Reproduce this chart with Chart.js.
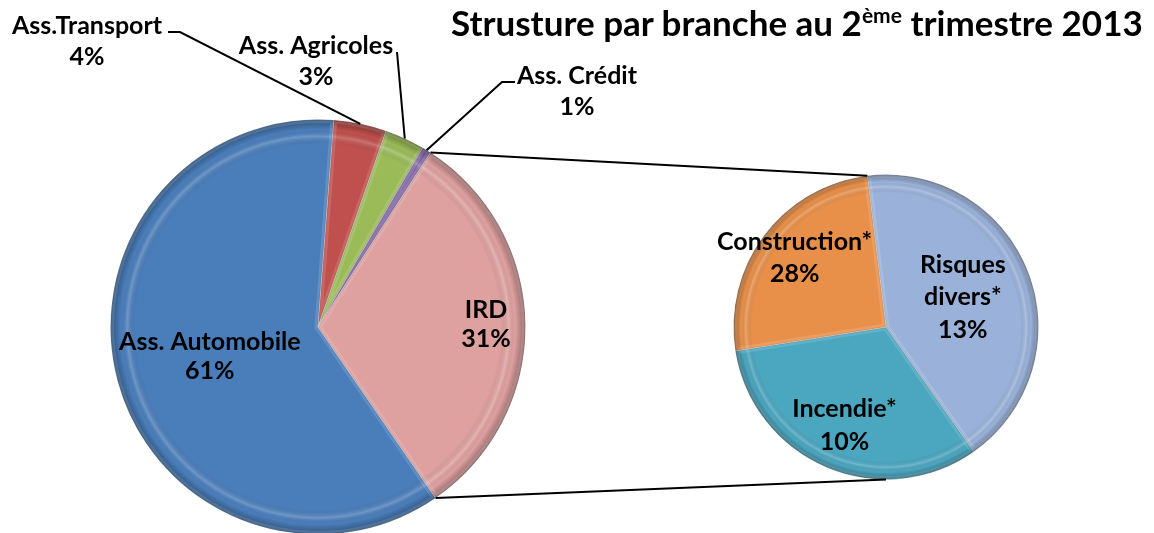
<!DOCTYPE html>
<html>
<head>
<meta charset="utf-8">
<script src="https://cdn.jsdelivr.net/npm/chart.js@4.4.1/dist/chart.umd.min.js"></script>
<style>
  body { margin: 0; background: #fff; overflow: hidden; }
  #wrap { position: relative; width: 1154px; height: 533px; overflow: hidden; }
  #wrap canvas { position: absolute; left: 0; top: 0; }
  #title {
    position: absolute; left: 451px; top: 1px; white-space: nowrap;
    font-family: Lato, sans-serif; font-weight: bold; font-size: 35px; color: #000;
  }
  #title sup { font-size: 21px; vertical-align: 13px; line-height: 0; }
</style>
</head>
<body>
<div id="wrap">
  <canvas id="mainPie" width="1154" height="560"></canvas>
  <canvas id="subPie" width="1154" height="560"></canvas>
  <div id="title">Strusture par branche au 2<sup>ème</sup> trimestre 2013</div>
</div>
<script>
// data
const mainLabels = [['Ass. Automobile'], ['Ass.Transport'], ['Ass. Agricoles'], ['Ass. Crédit'], ['IRD']]
const mainValues = [60.8, 4.1, 3.1, 0.7, 31.3]
const mainColors = ['#4a7ebb', '#c0504d', '#9bbb59', '#8064a2', '#dfa0a0']

// IRD split (second pie)
const subLabels = [['Risques', 'divers*'], ['Incendie*'], ['Construction*']]
const subValues = [13.2, 10.1, 8.0]
const subPercents = ['13%', '10%', '28%']
const subColors = ['#9ab2da', '#4ba6c0', '#e8904a']

// label placement (style only)
const mainLabelPos = [
  {r: 0.54},
  {x: 87, y: 41, leader: [[168, 32], [180, 32]]},
  {x: 316, y: 61, leader: [[397, 52]]},
  {x: 577, y: 91, leader: [[515, 82], [502, 82]]},
  {r: 0.81}
]
const subLabelPos = [{r: 0.54}, {r: 0.70}, {r: 0.75}]

const labelFont = 'bold 25px Lato'

function arcProps(arc) {
  return arc.getProps(['x', 'y', 'startAngle', 'endAngle', 'outerRadius'], true)
}

function drawLines(ctx, lines, x, y, lh) {
  ctx.font = labelFont
  ctx.fillStyle = '#000'
  ctx.textAlign = 'center'
  ctx.textBaseline = 'middle'
  let top = y - (lines.length - 1) * lh / 2
  lines.forEach((t, i) => ctx.fillText(t, x, top + i * lh))
}

// fake excel bevel: dark rim, light band, soft edges
const bevel = {
  id: 'bevel',
  afterDatasetsDraw(chart) {
    const ctx = chart.ctx
    chart.getDatasetMeta(0).data.forEach(arc => {
      const p = arcProps(arc)
      ctx.save()
      ctx.beginPath()
      ctx.moveTo(p.x, p.y)
      ctx.arc(p.x, p.y, p.outerRadius, p.startAngle, p.endAngle)
      ctx.closePath()
      ctx.clip()
      const g = ctx.createRadialGradient(p.x, p.y, 0, p.x, p.y, p.outerRadius)
      g.addColorStop(0, 'rgba(0,0,0,0)')
      g.addColorStop(0.88, 'rgba(0,0,0,0)')
      g.addColorStop(0.92, 'rgba(255,255,255,0.2)')
      g.addColorStop(0.95, 'rgba(0,0,0,0)')
      g.addColorStop(1, 'rgba(0,0,0,0.35)')
      ctx.fillStyle = g
      ctx.fill()
      ctx.lineWidth = 7
      ctx.strokeStyle = 'rgba(255,255,255,0.13)'
      ctx.stroke()
      ctx.lineWidth = 2
      ctx.strokeStyle = 'rgba(0,0,0,0.12)'
      ctx.stroke()
      ctx.restore()
    })
  }
}

function percentText(values, i) {
  let total = values.reduce((a, b) => a + b, 0)
  return Math.round(values[i] / total * 100) + '%'
}

const mainLabelPlugin = {
  id: 'mainLabels',
  afterDraw(chart) {
    const ctx = chart.ctx
    chart.getDatasetMeta(0).data.forEach((arc, i) => {
      const p = arcProps(arc)
      const pos = mainLabelPos[i]
      const lines = mainLabels[i].concat([percentText(mainValues, i)])
      const mid = (p.startAngle + p.endAngle) / 2
      if (pos.leader) {
        ctx.save()
        ctx.strokeStyle = '#000'
        ctx.lineWidth = 2
        ctx.beginPath()
        ctx.moveTo(pos.leader[0][0], pos.leader[0][1])
        pos.leader.slice(1).forEach(pt => ctx.lineTo(pt[0], pt[1]))
        ctx.lineTo(p.x + Math.cos(mid) * p.outerRadius, p.y + Math.sin(mid) * p.outerRadius)
        ctx.stroke()
        ctx.restore()
        drawLines(ctx, lines, pos.x, pos.y, 31)
      } else {
        let r = p.outerRadius * pos.r
        drawLines(ctx, lines, p.x + Math.cos(mid) * r, p.y + Math.sin(mid) * r, 29)
      }
    })
  }
}

const mainChart = new Chart('mainPie', {
  type: 'pie',
  data: {
    labels: mainLabels.map(l => l.join(' ')),
    datasets: [{
      data: mainValues,
      backgroundColor: mainColors,
      borderColor: 'rgba(255,255,255,0.35)',
      borderWidth: 1
    }]
  },
  options: {
    responsive: false,
    animation: false,
    rotation: 145.5,
    layout: {padding: {left: 110, right: 628, top: 119, bottom: 25}},
    plugins: {legend: {display: false}, tooltip: {enabled: false}}
  },
  plugins: [bevel, mainLabelPlugin]
})

const subLabelPlugin = {
  id: 'subLabels',
  afterDraw(chart) {
    const ctx = chart.ctx
    const sub = chart.getDatasetMeta(0).data
    sub.forEach((arc, i) => {
      const p = arcProps(arc)
      const mid = (p.startAngle + p.endAngle) / 2
      let r = p.outerRadius * subLabelPos[i].r
      drawLines(ctx, subLabels[i].concat([subPercents[i]]), p.x + Math.cos(mid) * r, p.y + Math.sin(mid) * r, 32.5)
    })

    // connector lines from the IRD slice edges to the second pie
    const ird = arcProps(mainChart.getDatasetMeta(0).data[mainValues.length - 1])
    const first = arcProps(sub[0])
    ctx.save()
    ctx.strokeStyle = '#000'
    ctx.lineWidth = 2
    ctx.beginPath()
    ctx.moveTo(ird.x + Math.cos(ird.startAngle) * ird.outerRadius, ird.y + Math.sin(ird.startAngle) * ird.outerRadius)
    ctx.lineTo(first.x + Math.cos(first.startAngle) * first.outerRadius, first.y + Math.sin(first.startAngle) * first.outerRadius)
    ctx.moveTo(ird.x + Math.cos(ird.endAngle) * ird.outerRadius, ird.y + Math.sin(ird.endAngle) * ird.outerRadius)
    ctx.lineTo(first.x, first.y + first.outerRadius)
    ctx.stroke()
    ctx.restore()
  }
}

new Chart('subPie', {
  type: 'pie',
  data: {
    labels: subLabels.map(l => l.join(' ')),
    datasets: [{
      data: subValues,
      backgroundColor: subColors,
      borderColor: 'rgba(255,255,255,0.35)',
      borderWidth: 1
    }]
  },
  options: {
    responsive: false,
    animation: false,
    rotation: -7,
    layout: {padding: {left: 733, right: 115, top: 174, bottom: 80}},
    plugins: {legend: {display: false}, tooltip: {enabled: false}}
  },
  plugins: [bevel, subLabelPlugin]
})
</script>
</body>
</html>
